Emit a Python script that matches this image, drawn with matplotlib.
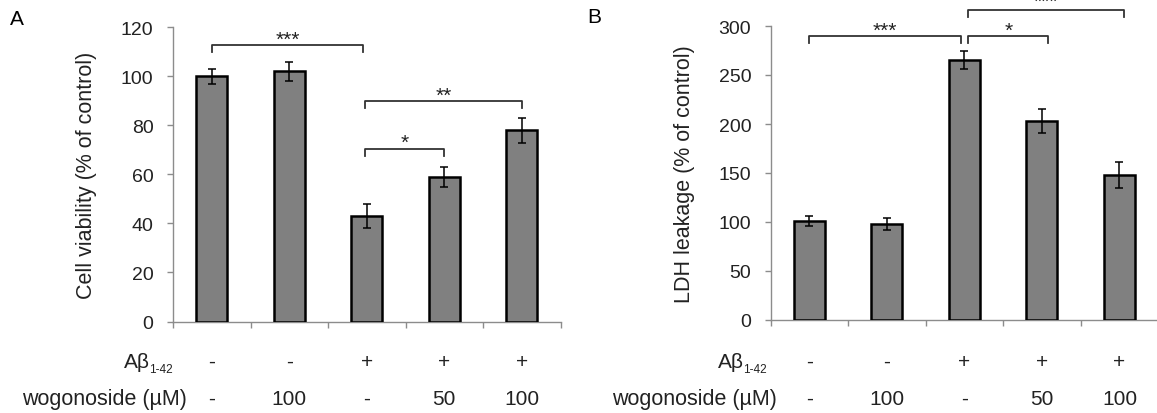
import matplotlib.pyplot as plt
from matplotlib.transforms import blended_transform_factory

plt.rcParams['font.family'] = ['Liberation Sans', 'DejaVu Sans']

W, H = 1157, 414

abeta_labels = ['-', '-', '+', '+', '+']
wogonoside_labels = ['-', '100', '-', '50', '100']

viability = [100, 102, 43, 59, 78]
viability_err = [3, 4, 5, 4, 5]
ldh = [101, 98, 265, 203, 148]
ldh_err = [5, 6, 9, 12, 13]

# significance brackets: (left, right, height, stars)
viability_sig = [(0, 1.95, 112.6, '***'), (1.98, 3, 70.4, '*'), (1.98, 4, 89.9, '**')]
ldh_sig = [(0, 1.95, 289.5, '***'), (2.05, 3.08, 289.5, '*'), (2.05, 4.06, 316.3, '***')]

GRAY_AXIS = '#8c8c8c'


def draw_panel(ax, vals, errs, sig, ymax, ystep, ylabel, tick_h, row_y, wog_x, ab_x):
    x = list(range(len(vals)))
    ax.bar(x, vals, width=0.4, color='#808080', edgecolor='black', linewidth=1.8,
           yerr=errs, capsize=3,
           error_kw=dict(elinewidth=1.1, capthick=1.1, ecolor='black'), zorder=3)
    ax.set_xlim(-0.5, 4.5)
    ax.set_ylim(0, ymax)
    ax.set_yticks(range(0, ymax + 1, ystep))
    ax.set_xticks([i - 0.5 for i in range(6)])
    ax.set_xticklabels([])
    for s in ['top', 'right']:
        ax.spines[s].set_visible(False)
    for s in ['left', 'bottom']:
        ax.spines[s].set_color(GRAY_AXIS)
        ax.spines[s].set_linewidth(1.0)
    ax.tick_params(axis='both', direction='out', length=4, width=1, color=GRAY_AXIS)
    ax.tick_params(axis='y', labelsize=14, pad=10, labelcolor='#222222')
    ax.set_ylabel(ylabel, fontsize=15.5, color='#222222')
    ax.yaxis.set_label_coords(-0.196, 0.5)

    for k, (left, right, h, stars) in enumerate(sig):
        ax.plot([left, left, right, right], [h - tick_h, h, h, h - tick_h],
                color='#333333', lw=1.3, clip_on=False)
        # the topmost bracket of panel B runs off the top edge in the original
        lift = 0.5 * tick_h if h > ymax else 0.1 * tick_h
        ax.text((left + right) / 2, h + lift, stars, ha='center', va='baseline',
                fontsize=15, color='#222222', clip_on=False)

    trans = blended_transform_factory(ax.transData, ax.transAxes)
    for i, (a, w) in enumerate(zip(abeta_labels, wogonoside_labels)):
        ax.text(i, row_y[0], a, transform=trans, ha='center', va='baseline',
                fontsize=15, color='#222222')
        ax.text(i, row_y[1], w, transform=trans, ha='center', va='baseline',
                fontsize=15, color='#222222')
    ax.text(ab_x - 0.06, row_y[0], 'A\u03b2', transform=ax.transAxes, ha='right',
            va='baseline', fontsize=15, color='#222222')
    ax.text(ab_x, row_y[0] - 0.016, '1-42', transform=ax.transAxes, ha='right',
            va='baseline', fontsize=8.5, color='#222222')
    ax.text(wog_x, row_y[1], 'wogonoside (\u00b5M)', transform=ax.transAxes, ha='right',
            va='baseline', fontsize=15.5, color='#222222')


fig = plt.figure(figsize=(W / 100, H / 100), dpi=100)
axA = fig.add_axes([173 / W, 1 - 322.5 / H, 387.5 / W, 294.2 / H])
axB = fig.add_axes([770.7 / W, 1 - 321 / H, 387.5 / W, 294 / H])

draw_panel(axA, viability, viability_err, viability_sig, 120, 20,
           'Cell viability (% of control)', 2.7, (-0.1547, -0.2804), 0.036, 0.0)
draw_panel(axB, ldh, ldh_err, ldh_sig, 300, 50,
           'LDH leakage (% of control)', 6.8, (-0.160, -0.2857), 0.016, -0.010)

fig.text(10 / W, 1 - 25 / H, 'A', fontsize=15, va='baseline')
fig.text(587 / W, 1 - 23 / H, 'B', fontsize=15, va='baseline')

fig.savefig('out.png', dpi=100)
